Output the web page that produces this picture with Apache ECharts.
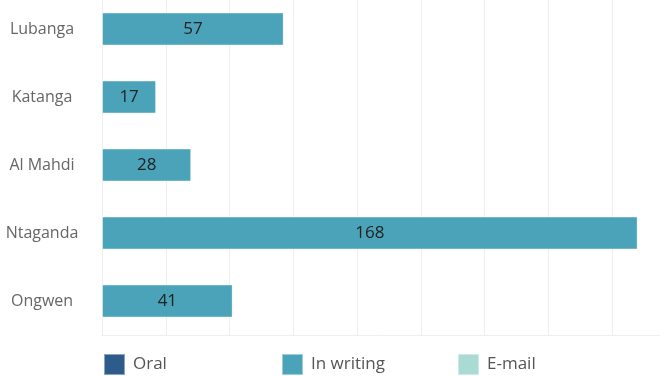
<!DOCTYPE html>
<html>
<head>
<meta charset="utf-8">
<script src="https://cdn.jsdelivr.net/npm/echarts@6/dist/echarts.min.js"></script>
<style>
  html, body { margin: 0; padding: 0; background: #ffffff; }
  #chart { width: 660px; height: 376px; }
</style>
</head>
<body>
<div id="chart"></div>
<script>
// Trials, top to bottom
const trials = ['Lubanga', 'Katanga', 'Al Mahdi', 'Ntaganda', 'Ongwen'];
// Count per submission type
const oral = [0, 0, 0, 0, 0];
const inWriting = [57, 17, 28, 168, 41];
const email = [0, 0, 0, 0, 0];
const seriesNames = ['Oral', 'In writing', 'E-mail'];
const seriesColors = ['#2d5b8a', '#4aa3b8', '#a9dad4'];

const font = '"Open Sans", "Noto Sans", sans-serif';
const chart = echarts.init(document.getElementById('chart'), null, { renderer: 'canvas' });

function legendAt(i, left) {
  return {
    data: [seriesNames[i]],
    left: left,
    top: 353,
    padding: 0,
    itemWidth: 21,
    itemHeight: 21,
    itemGap: 0,
    icon: 'rect',
    selectedMode: false,
    textStyle: { color: '#555555', fontSize: 17, fontFamily: font, padding: [0, 0, 0, 3] }
  };
}

function makeSeries(i, values, showLabel) {
  return {
    name: seriesNames[i],
    type: 'bar',
    stack: 'total',
    data: values,
    barWidth: 33,
    itemStyle: { color: seriesColors[i], borderColor: 'rgba(255,255,255,0.45)', borderWidth: 1 },
    label: {
      show: showLabel,
      position: 'inside',
      color: '#222222',
      fontSize: 17,
      fontFamily: font
    },
    emphasis: { disabled: true }
  };
}

chart.setOption({
  animation: false,
  grid: {
    left: 102, right: -16, top: -5, bottom: 41,
    containLabel: false,
    outerBoundsMode: 'none'
  },
  legend: [legendAt(0, 103), legendAt(1, 281), legendAt(2, 457)],
  xAxis: {
    type: 'value',
    min: 0,
    max: 180,
    interval: 20,
    axisLabel: { show: false },
    axisTick: { show: false },
    axisLine: { show: true, lineStyle: { color: '#eeeeee', width: 1 } },
    splitLine: { show: true, lineStyle: { color: '#eeeeee', width: 1 } }
  },
  yAxis: {
    type: 'category',
    data: trials,
    inverse: true,
    axisTick: { show: false },
    axisLine: { show: true, lineStyle: { color: '#eeeeee' } },
    axisLabel: { color: '#666666', fontSize: 16, fontFamily: font, align: 'center', margin: 60 },
    splitLine: { show: false }
  },
  series: [
    makeSeries(0, oral, false),
    makeSeries(1, inWriting, true),
    makeSeries(2, email, false)
  ]
});
</script>
</body>
</html>
